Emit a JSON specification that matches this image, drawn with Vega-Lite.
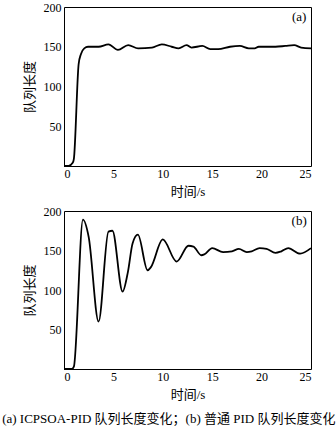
{
  "$schema": "https://vega.github.io/schema/vega-lite/v6.json",
  "padding": {"left": 0, "top": 0, "right": 0, "bottom": 0},
  "background": "white",
  "spacing": 5,
  "config": {
    "view": {"stroke": "black", "strokeWidth": 1},
    "font": "Liberation Serif, Noto Sans CJK SC",
    "axis": {"grid": false, "ticks": false, "domain": false, "labelFont": "Liberation Serif", "labelFontSize": 12, "labelColor": "black", "titleFont": "Liberation Serif, Noto Sans CJK SC", "titleFontSize": 13, "titleFontWeight": "normal", "titleColor": "black", "labelPadding": 3}
  },
  "title": {"text": "(a) ICPSOA-PID 队列长度变化；(b)  普通 PID 队列长度变化", "orient": "bottom", "anchor": "middle", "font": "Liberation Serif, Noto Sans CJK SC", "fontSize": 13, "fontWeight": "normal", "color": "black", "offset": 11, "dx": 0},
  "datasets": {
    "a": [
      {"t": 0, "v": 0}, {"t": 0.47, "v": 0}, {"t": 0.88, "v": 4}, {"t": 1.0, "v": 9},
      {"t": 1.48, "v": 128}, {"t": 1.72, "v": 141}, {"t": 2.05, "v": 148}, {"t": 2.43, "v": 150},
      {"t": 3.5, "v": 150}, {"t": 4.5, "v": 153}, {"t": 5.46, "v": 146}, {"t": 6.5, "v": 152},
      {"t": 7.5, "v": 148}, {"t": 8.9, "v": 149}, {"t": 9.9, "v": 153}, {"t": 10.9, "v": 150},
      {"t": 11.6, "v": 148}, {"t": 12.4, "v": 152}, {"t": 12.9, "v": 149}, {"t": 14.0, "v": 151},
      {"t": 14.8, "v": 147}, {"t": 15.6, "v": 147}, {"t": 16.8, "v": 150}, {"t": 17.8, "v": 151},
      {"t": 18.7, "v": 148}, {"t": 19.3, "v": 148}, {"t": 19.7, "v": 150}, {"t": 21.4, "v": 150},
      {"t": 22.4, "v": 151}, {"t": 23.3, "v": 152}, {"t": 24.0, "v": 149}, {"t": 25.0, "v": 148}
    ],
    "b": [
      {"t": 0, "v": 0}, {"t": 0.8, "v": 0}, {"t": 1.0, "v": 3}, {"t": 1.92, "v": 189},
      {"t": 2.5, "v": 167}, {"t": 3.5, "v": 60}, {"t": 4.5, "v": 174}, {"t": 4.9, "v": 175},
      {"t": 5.93, "v": 98}, {"t": 6.47, "v": 123}, {"t": 6.94, "v": 159}, {"t": 7.48, "v": 170},
      {"t": 8.46, "v": 125}, {"t": 8.8, "v": 129}, {"t": 10.0, "v": 164}, {"t": 11.4, "v": 136},
      {"t": 12.6, "v": 156}, {"t": 13.1, "v": 155}, {"t": 13.9, "v": 144}, {"t": 14.2, "v": 145},
      {"t": 15.0, "v": 153}, {"t": 16.1, "v": 148}, {"t": 17.0, "v": 149}, {"t": 17.7, "v": 152},
      {"t": 18.5, "v": 148}, {"t": 19.0, "v": 149}, {"t": 19.8, "v": 153}, {"t": 20.5, "v": 152},
      {"t": 21.4, "v": 147}, {"t": 22.0, "v": 149}, {"t": 22.7, "v": 153}, {"t": 23.9, "v": 146},
      {"t": 25.0, "v": 153}
    ],
    "la": [{"label": "(a)"}],
    "lb": [{"label": "(b)"}]
  },
  "vconcat": [
    {
      "width": 247, "height": 159,
      "layer": [
        {
          "data": {"name": "a"},
          "mark": {"type": "line", "color": "black", "strokeWidth": 1.8, "interpolate": "monotone"},
          "encoding": {
            "x": {"field": "t", "type": "quantitative", "scale": {"domain": [0, 25], "nice": false}, "axis": {"values": [0, 5, 10, 15, 20, 25], "title": "时间/s", "titlePadding": 6, "labelPadding": 2}},
            "y": {"field": "v", "type": "quantitative", "scale": {"domain": [0, 200], "nice": false}, "axis": {"values": [50, 100, 150, 200], "title": "队列长度", "titlePadding": 7}}
          }
        },
        {
          "data": {"name": "la"},
          "mark": {"type": "text", "font": "Liberation Serif", "fontSize": 13, "color": "black", "align": "center", "baseline": "middle"},
          "encoding": {"text": {"field": "label"}, "x": {"datum": 23.8, "type": "quantitative"}, "y": {"datum": 187, "type": "quantitative"}}
        }
      ]
    },
    {
      "width": 247, "height": 158,
      "layer": [
        {
          "data": {"name": "b"},
          "mark": {"type": "line", "color": "black", "strokeWidth": 1.8, "interpolate": "monotone"},
          "encoding": {
            "x": {"field": "t", "type": "quantitative", "scale": {"domain": [0, 25], "nice": false}, "axis": {"values": [0, 5, 10, 15, 20, 25], "title": "时间/s", "titlePadding": 6, "labelPadding": 2}},
            "y": {"field": "v", "type": "quantitative", "scale": {"domain": [0, 200], "nice": false}, "axis": {"values": [50, 100, 150, 200], "title": "队列长度", "titlePadding": 7}}
          }
        },
        {
          "data": {"name": "lb"},
          "mark": {"type": "text", "font": "Liberation Serif", "fontSize": 13, "color": "black", "align": "center", "baseline": "middle"},
          "encoding": {"text": {"field": "label"}, "x": {"datum": 23.8, "type": "quantitative"}, "y": {"datum": 187, "type": "quantitative"}}
        }
      ]
    }
  ]
}
